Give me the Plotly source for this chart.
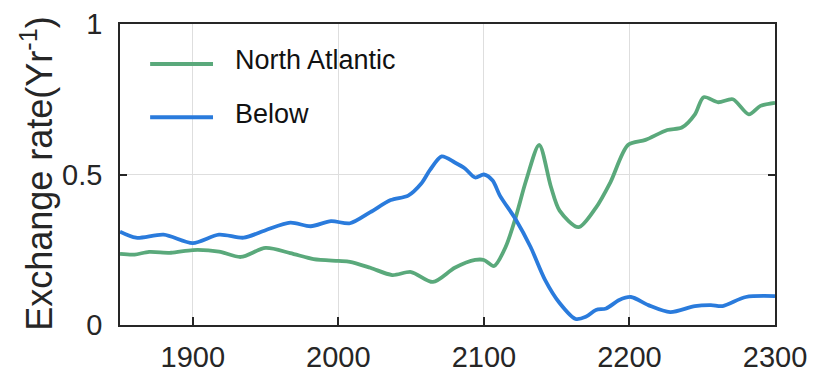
import plotly.graph_objects as go

# North Atlantic exchange rate (per year)
na_years = [1850, 1860, 1870, 1885, 1900, 1918, 1933, 1950, 1967, 1983, 2000, 2008,
            2022, 2037, 2050, 2065, 2080, 2094, 2100, 2107, 2115, 2122, 2129, 2138,
            2146, 2152, 2165, 2177, 2187, 2199, 2211, 2226, 2236, 2245, 2251, 2261,
            2271, 2282, 2290, 2300]
na_rate = [0.236, 0.234, 0.243, 0.240, 0.249, 0.244, 0.226, 0.256, 0.239, 0.219, 0.213, 0.210,
           0.190, 0.166, 0.176, 0.143, 0.190, 0.216, 0.216, 0.196, 0.260, 0.360, 0.480, 0.598,
           0.460, 0.380, 0.325, 0.390, 0.475, 0.598, 0.615, 0.648, 0.656, 0.700, 0.757, 0.740,
           0.750, 0.700, 0.728, 0.738]

# Exchange rate below the mixed layer (per year)
below_years = [1850, 1861, 1880, 1900, 1918, 1935, 1950, 1967, 1981, 1995, 2008, 2022,
               2036, 2048, 2057, 2063, 2071, 2080, 2087, 2094, 2100, 2106, 2111, 2122,
               2132, 2142, 2152, 2163, 2170, 2177, 2184, 2193, 2201, 2213, 2228, 2245,
               2256, 2264, 2280, 2300]
below_rate = [0.310, 0.290, 0.300, 0.272, 0.300, 0.290, 0.315, 0.340, 0.328, 0.345, 0.338, 0.375,
              0.415, 0.430, 0.470, 0.515, 0.560, 0.540, 0.520, 0.490, 0.500, 0.480, 0.430, 0.350,
              0.260, 0.150, 0.073, 0.020, 0.027, 0.050, 0.055, 0.083, 0.093, 0.066, 0.043, 0.063,
              0.066, 0.063, 0.093, 0.096]

series_names = ["North Atlantic", "Below"]
series_colors = ["#5aa97b", "#2a7bdc"]

x_ticks = [1900, 2000, 2100, 2200, 2300]
y_ticks = [0, 0.5, 1]
y_tick_text = ["0", "0.5", "1"]

FONT = "Liberation Sans, Arial, sans-serif"

fig = go.Figure()
for yrs, vals, name, col in zip([na_years, below_years], [na_rate, below_rate],
                                series_names, series_colors):
    fig.add_trace(go.Scatter(x=yrs, y=vals, mode="lines", name=name,
                             line=dict(color=col, width=3.8, shape="spline", smoothing=0.8),
                             showlegend=False))

# hand-drawn legend in the upper-left corner of the axes
leg_rows = [0.867, 0.69]
for name, col, yy in zip(series_names, series_colors, leg_rows):
    fig.add_shape(type="line", xref="paper", yref="paper",
                  x0=0.046, x1=0.142, y0=yy, y1=yy,
                  line=dict(color=col, width=4))
    fig.add_annotation(xref="paper", yref="paper", x=0.172, y=yy + 0.012,
                       text=name, showarrow=False, xanchor="left", yanchor="middle",
                       font=dict(family=FONT, size=27, color="#111111"))

fig.add_annotation(xref="paper", yref="paper", x=-0.127, y=0.505,
                   text="Exchange rate(Yr<sup>-1</sup>)", textangle=-90,
                   showarrow=False, xanchor="center", yanchor="middle",
                   font=dict(family=FONT, size=36, color="#262626"))

axis_common = dict(showline=True, linecolor="#262626", linewidth=1.6,
                   ticks="inside", tickcolor="#262626", tickwidth=1.6,
                   showgrid=True, gridcolor="#dedede", gridwidth=1,
                   zeroline=False, automargin=False,
                   tickfont=dict(family=FONT, size=29, color="#262626"))

fig.update_xaxes(range=[1850, 2300], tickvals=x_ticks, ticklen=8,
                 mirror=True, ticklabelstandoff=5, **axis_common)
fig.update_yaxes(range=[0, 1], tickvals=y_ticks, ticktext=y_tick_text, ticklen=7,
                 mirror="ticks", ticklabelstandoff=10, **axis_common)

fig.update_layout(width=815, height=374,
                  margin=dict(l=120, r=40, t=24, b=49, autoexpand=False),
                  plot_bgcolor="white", paper_bgcolor="white",
                  font=dict(family=FONT))

fig.write_html("out.html")
